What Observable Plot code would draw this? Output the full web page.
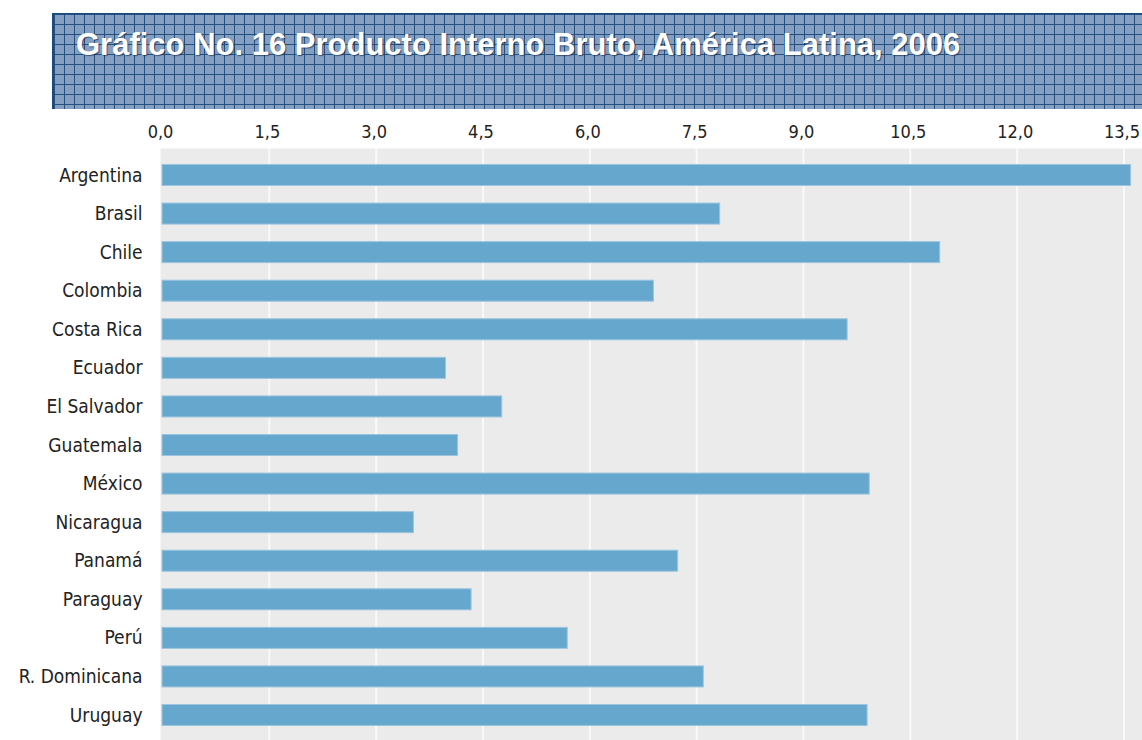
<!DOCTYPE html>
<html>
<head>
<meta charset="utf-8">
<script src="https://cdn.jsdelivr.net/npm/d3@7"></script>
<script src="https://cdn.jsdelivr.net/npm/@observablehq/plot@0.6"></script>
<style>
  html, body { margin: 0; padding: 0; background: #fff; width: 1142px; height: 740px; overflow: hidden; }
  #title {
    position: absolute; left: 52px; top: 13px; width: 1088px; height: 95px;
    border-left: 2px solid #1d4a7c; border-top: 1px solid #1d4a7c;
    background-color: #849fc1;
    background-image:
      linear-gradient(to right, #24507f 1px, transparent 1px),
      linear-gradient(to bottom, #24507f 1px, transparent 1px);
    background-size: 10px 10px;
  }
  #title span {
    position: absolute; left: 22px; top: 15px; line-height: 1;
    font-family: "Liberation Sans", Arial, sans-serif; font-weight: bold; font-size: 31px;
    color: #fff; text-shadow: 1px 1px 1px rgba(10,30,70,0.6); white-space: nowrap;
  }
  #chart { position: absolute; left: 0; top: 110px; }
</style>
</head>
<body>
<div id="title"><span>Gráfico No. 16 Producto Interno Bruto, América Latina, 2006</span></div>
<div id="chart"></div>
<script>
const countries = ["Argentina", "Brasil", "Chile", "Colombia", "Costa Rica", "Ecuador", "El Salvador", "Guatemala", "México", "Nicaragua", "Panamá", "Paraguay", "Perú", "R. Dominicana", "Uruguay"];
const values = [13.60, 7.83, 10.92, 6.90, 9.62, 3.98, 4.77, 4.15, 9.93, 3.53, 7.24, 4.34, 5.69, 7.60, 9.90];
const tickValues = [0, 1.5, 3.0, 4.5, 6.0, 7.5, 9.0, 10.5, 12.0, 13.5];

const data = countries.map((c, i) => ({country: c, value: values[i]}));
const fmt = d => d3.format(".1f")(d).replace(".", ",");
const font = "'DejaVu Sans Condensed', 'DejaVu Sans', sans-serif";

const chart = Plot.plot({
  width: 1142,
  height: 630,
  marginTop: 38,
  marginBottom: 0,
  marginLeft: 160,
  marginRight: 0,
  style: {fontFamily: font, fontSize: "15px", color: "#222", background: "transparent"},
  x: {domain: [0, 13.76], insetLeft: 2},
  y: {domain: countries, paddingInner: 0.455, paddingOuter: 0.2275, insetTop: 7.7, insetBottom: 5.7, round: false},
  marks: [
    Plot.frame({fill: "#ebebeb", stroke: null}),
    Plot.ruleX(tickValues.filter(d => d > 0), {stroke: "#f9f9f9", strokeWidth: 2}),
    Plot.barX(data, {x: "value", y: "country", fill: "#65a7cd", stroke: "#9cc5df", strokeWidth: 1}),
    Plot.axisX({anchor: "top", ticks: tickValues, tickFormat: fmt, tickSize: 0, tickPadding: 11, label: null, fontSize: 18, dx: -2, fill: "#222", style: {letterSpacing: "0.5px"}}),
    Plot.axisY({anchor: "left", tickSize: 0, tickPadding: 18, label: null, fontSize: 19, fill: "#222", style: {letterSpacing: "0.5px"}})
  ]
});
document.getElementById("chart").appendChild(chart);
</script>
</body>
</html>
